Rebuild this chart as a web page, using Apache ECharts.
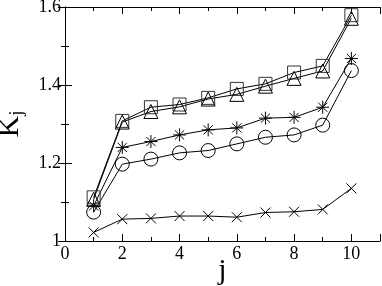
<!DOCTYPE html>
<html><head><meta charset="utf-8">
<script src="https://cdn.jsdelivr.net/npm/echarts@6/dist/echarts.min.js"></script>
<style>html,body{margin:0;padding:0;background:#fff}#c{width:382px;height:286px}</style>
</head><body><div id="c"></div>
<script>
const xValues = [1,2,3,4,5,6,7,8,9,10];
const squares   = [1.112,1.308,1.343,1.350,1.367,1.390,1.403,1.432,1.449,1.579];
const triangles = [1.107,1.305,1.332,1.344,1.364,1.376,1.397,1.417,1.436,1.571];
const stars     = [1.090,1.240,1.255,1.272,1.285,1.290,1.315,1.317,1.343,1.468];
const circles   = [1.074,1.197,1.210,1.226,1.232,1.249,1.266,1.272,1.297,1.437];
const crosses   = [1.022,1.056,1.058,1.064,1.064,1.061,1.073,1.075,1.081,1.135];
const xTicks = [0,2,4,6,8,10];
const yTicks = [1,1.2,1.4,1.6];

const FONT = '"Liberation Serif","DejaVu Serif",serif';
const starPath = 'path://M0,-10L0,10M-10,0L10,0M-7.07,-7.07L7.07,7.07M-7.07,7.07L7.07,-7.07';
const crossPath = 'path://M-10,-10L10,10M-10,10L10,-10';

function mk(name, data, symbol, size, col) {
  return {
    name, type: 'line', data: xValues.map((x,i)=>[x,data[i]]),
    symbol, symbolSize: size, showAllSymbol: true,
    lineStyle: {color: '#000', width: 1},
    itemStyle: {color: 'transparent', borderColor: col || '#000', borderWidth: 1},
    emphasis: {disabled: true}, animation: false
  };
}
const tickCommon = {
  axisTick: {show: true, inside: true, length: 7, lineStyle: {color: '#000'}},
  minorTick: {show: true, splitNumber: 2, length: 4, lineStyle: {color: '#000'}},
  axisLine: {show: true, lineStyle: {color: '#000', width: 1}},
  splitLine: {show: false}
};
const chart = echarts.init(document.getElementById('c'), null, {renderer: 'canvas'});
chart.setOption({
  backgroundColor: '#fff',
  animation: false,
  grid: {left: 65, right: 2, top: 7, bottom: 45, containLabel: false, outerBoundsMode: 'none'},
  xAxis: [
    Object.assign({type: 'value', min: 0, max: 11, interval: 2, position: 'bottom',
      name: 'j', nameLocation: 'middle', nameGap: 15, nameMoveOverlap: false,
      nameTextStyle: {fontFamily: FONT, fontSize: 30, color: '#000', verticalAlign: 'top'},
      axisLabel: {fontFamily: FONT, fontSize: 18, color: '#000', margin: 4,
        formatter: v => xTicks.includes(v) ? String(v) : ''}}, tickCommon),
    Object.assign({type: 'value', min: 0, max: 11, interval: 2, position: 'top',
      axisLabel: {show: false}}, tickCommon)
  ],
  yAxis: [
    Object.assign({type: 'value', min: 1, max: 1.6, interval: 0.2, position: 'left',
      name: '{k|K}{s|j}', nameLocation: 'middle', nameGap: 38, nameRotate: 90, nameMoveOverlap: false,
      nameTextStyle: {rich: {
        k: {fontFamily: FONT, fontSize: 30, color: '#000'},
        s: {fontFamily: FONT, fontSize: 19, color: '#000', padding: [14,0,0,0]}}},
      axisLabel: {fontFamily: FONT, fontSize: 18, color: '#000', margin: 4,
        formatter: v => { const t = yTicks.find(y => Math.abs(y - v) < 1e-6); return t === undefined ? '' : (t === 1 ? '1' : t.toFixed(1)); }}}, tickCommon),
    Object.assign({type: 'value', min: 1, max: 1.6, interval: 0.2, position: 'right',
      axisLabel: {show: false}}, tickCommon)
  ],
  series: [
    mk('squares', squares, 'rect', 13, '#333'),
    mk('triangles', triangles, 'triangle', 14),
    mk('stars', stars, starPath, 13),
    mk('circles', circles, 'circle', 14),
    mk('crosses', crosses, crossPath, 10)
  ]
});
</script></body></html>
